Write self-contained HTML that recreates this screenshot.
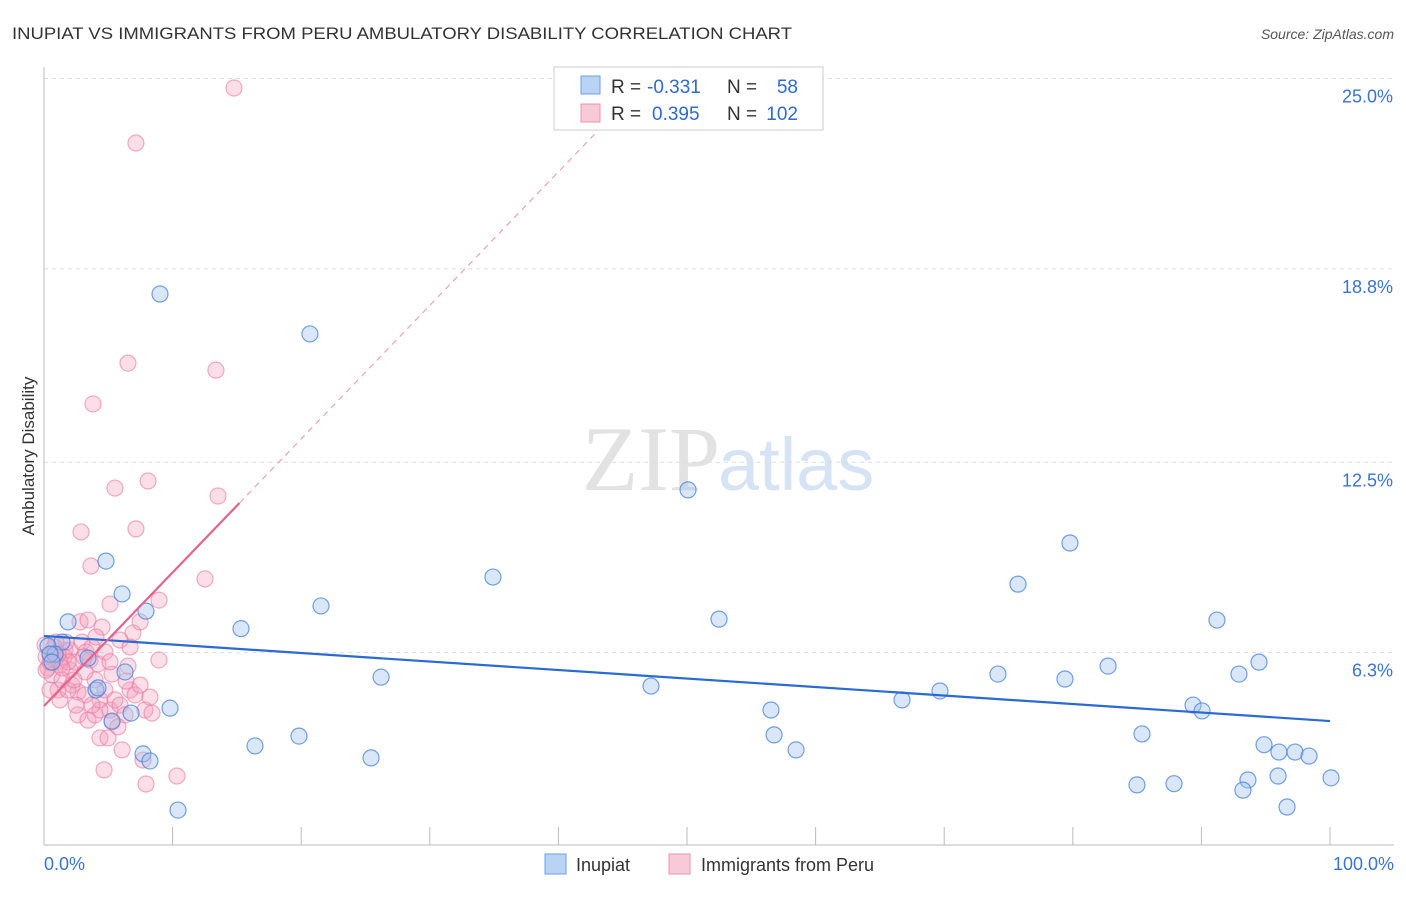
<!DOCTYPE html>
<html><head><meta charset="utf-8"><style>
body{margin:0;background:#fff;font-family:"Liberation Sans",sans-serif}
</style></head><body>
<svg id="c" width="1406" height="892" xmlns="http://www.w3.org/2000/svg">
<text x="12" y="39" font-size="17" fill="#333" textLength="780" lengthAdjust="spacingAndGlyphs">INUPIAT VS IMMIGRANTS FROM PERU AMBULATORY DISABILITY CORRELATION CHART</text>
<text x="1394" y="39" font-size="14" fill="#555" font-style="italic" text-anchor="end">Source: ZipAtlas.com</text>
<text x="720" y="490" font-size="92" fill="#e2e2e2" text-anchor="end" font-family="Liberation Serif">ZIP</text>
<text x="718" y="490" font-size="74" fill="#d6e3f4">atlas</text>
<text transform="translate(34,456) rotate(-90)" font-size="17" fill="#333" text-anchor="middle">Ambulatory Disability</text>
<g id="grid"></g><g id="pts"></g><g id="lines"></g>
<g>
<rect x="554" y="67" width="269" height="63" fill="#fff" stroke="#ccc"/>
<rect x="581" y="76" width="19" height="18" fill="#b9d3f5" stroke="#6f9fe0"/>
<rect x="581" y="104" width="19" height="18" fill="#f8c9d7" stroke="#ef92b0"/>
<text x="611" y="93" font-size="19" fill="#333">R =</text>
<text x="647" y="93" font-size="19" fill="#2f6ad0">-0.331</text>
<text x="727" y="93" font-size="19" fill="#333">N =</text>
<text x="798" y="93" font-size="19" fill="#2f6ad0" text-anchor="end">58</text>
<text x="611" y="120" font-size="19" fill="#333">R =</text>
<text x="652" y="120" font-size="19" fill="#2f6ad0">0.395</text>
<text x="727" y="120" font-size="19" fill="#333">N =</text>
<text x="798" y="120" font-size="19" fill="#2f6ad0" text-anchor="end">102</text>
</g>
<g>
<rect x="545" y="854" width="21" height="20" fill="#b9d3f5" stroke="#6f9fe0"/>
<text x="576" y="871" font-size="18" fill="#333">Inupiat</text>
<rect x="669" y="854" width="21" height="20" fill="#f8c9d7" stroke="#ef92b0"/>
<text x="701" y="871" font-size="18" fill="#333">Immigrants from Peru</text>
</g>
</svg>
<script>
const yTicks=[25.0,18.8,12.5,6.3];
const yTickLabels=["25.0%","18.8%","12.5%","6.3%"];
const xLabels=["0.0%","100.0%"];
const blueX=[9.02,20.68,50.08,79.78,4.82,34.91,75.739,6.07,7.93,21.54,52.49,91.21,1.87,15.32,1.40,0.31,0.86,3.42,6.30,82.74,94.48,92.92,26.21,74.18,79.39,47.20,69.67,4.04,66.72,9.80,89.35,90.05,6.77,56.53,5.29,16.41,19.83,56.77,85.38,58.48,94.87,7.70,8.24,25.43,96.03,97.28,98.37,100.08,84.99,87.87,93.62,95.96,93.23,10.42,96.66,0.47,0.62,4.20];
const blueY=[17.98,16.68,11.60,9.87,9.28,8.76,8.53,8.21,7.65,7.82,7.39,7.36,7.30,7.08,6.64,6.51,6.25,6.12,5.67,5.86,5.99,5.60,5.50,5.60,5.44,5.21,5.05,5.08,4.76,4.49,4.59,4.40,4.33,4.43,4.07,3.26,3.58,3.62,3.65,3.13,3.30,3.00,2.77,2.87,3.06,3.06,2.93,2.22,1.99,2.03,2.15,2.28,1.82,1.17,1.27,6.25,5.99,5.15];
const pinkX=[14.77,7.15,6.53,13.37,3.81,5.52,8.09,13.53,2.88,7.15,3.65,12.52,5.13,8.94,2.80,3.42,4.51,6.92,5.91,8.94,0.08,0.47,0.86,1.24,1.63,2.02,0.31,0.62,1.09,1.40,2.18,2.64,3.19,3.58,3.97,4.35,4.74,5.13,5.29,5.52,5.91,6.30,6.69,7.08,7.47,7.85,8.24,8.40,2.64,3.42,3.97,4.35,4.98,5.75,6.07,4.67,7.70,7.93,10.34,2.02,2.41,2.96,3.27,3.73,1.71,0.93,4.20,4.74,5.29,6.38,6.53,3.19,1.24,2.49,1.87,0.47,0.16,4.35,3.73,0.78,1.56,2.33,3.11,4.04,5.13,6.69,7.47,1.24,1.87,0.16,0.47,1.09,1.40];
const pinkY=[24.69,22.90,15.73,15.50,14.40,11.66,11.89,11.40,10.23,10.33,9.12,8.70,7.88,8.01,7.30,7.36,7.13,6.94,6.71,6.06,6.55,6.22,6.06,5.90,6.38,5.73,5.80,5.57,5.08,5.41,5.24,5.02,4.92,6.06,5.41,4.76,5.08,4.43,4.04,4.76,4.59,4.27,5.08,4.92,5.24,4.43,4.85,4.33,4.27,4.10,4.27,3.52,3.52,3.88,3.13,2.48,2.80,2.02,2.28,6.38,5.99,6.64,6.32,6.48,6.64,6.64,5.93,6.32,5.60,5.37,5.86,5.67,4.76,4.59,5.08,5.08,5.73,4.43,4.59,6.48,6.16,5.41,6.16,6.81,6.00,6.48,7.30,6.03,6.00,6.16,5.99,6.25,5.80];
const blueFit=[6.84,4.07];
const pinkFit=[4.56,0.435];
const X=v=>44+v*12.86, Y=v=>846-v*30.7;
const NS="http://www.w3.org/2000/svg";
function mk(t,a,p){const e=document.createElementNS(NS,t);for(const k in a)e.setAttribute(k,a[k]);p.appendChild(e);return e;}
const g=document.getElementById('grid'),P=document.getElementById('pts'),L=document.getElementById('lines');
yTicks.forEach((t,i)=>{
 const l=mk('line',{x1:44,x2:1394,y1:Y(t),y2:Y(t),stroke:'#ddd','stroke-dasharray':'4,4'},g);
 
 
 const tx=mk('text',{x:1393,y:Y(t)+24,'font-size':18,fill:'#3b73d1','text-anchor':'end'},g);
 tx.textContent=yTickLabels[i];
 
 
});
const ax=mk('line',{x1:44,x2:1394,y1:845,y2:845,stroke:'#bbb'},g);


const ay=mk('line',{x1:44,x2:44,y1:67,y2:845,stroke:'#bbb'},g);


for(let i=1;i<=10;i++){const t=mk('line',{x1:X(i*10),x2:X(i*10),y1:827,y2:845,stroke:'#bbb'},g);
 
 }
[[0,'start',44],[1,'end',1394]].forEach(([i,a,x])=>{const t=mk('text',{x:x,y:870,'font-size':18,fill:'#3b73d1','text-anchor':a},g);t.textContent=xLabels[i];
 
 });
pinkX.forEach((x,i)=>{const c=mk('circle',{cx:X(x),cy:Y(pinkY[i]),r:8,fill:'rgba(244,160,188,0.35)',stroke:'rgba(232,120,160,0.6)','stroke-width':1.2},P);
 
 });
blueX.forEach((x,i)=>{const c=mk('circle',{cx:X(x),cy:Y(blueY[i]),r:8,fill:'rgba(160,195,240,0.4)',stroke:'rgba(70,130,220,0.75)','stroke-width':1.2},P);
 
 });
const bl=mk('line',{x1:X(0),y1:Y(blueFit[0]),x2:X(100),y2:Y(blueFit[1]),stroke:'#2a6ad6','stroke-width':2.2},L);


const pl=mk('line',{x1:X(0),y1:Y(pinkFit[0]),x2:X(15.2),y2:Y(pinkFit[0]+pinkFit[1]*15.2),stroke:'#e8618e','stroke-width':2.2},L);


const pd=mk('line',{x1:X(15.2),y1:Y(pinkFit[0]+pinkFit[1]*15.2),x2:X(42.8),y2:Y(pinkFit[0]+pinkFit[1]*42.8),stroke:'#e9a3ba','stroke-width':1.2,'stroke-dasharray':'6,5'},L);


</script>
</body></html>
